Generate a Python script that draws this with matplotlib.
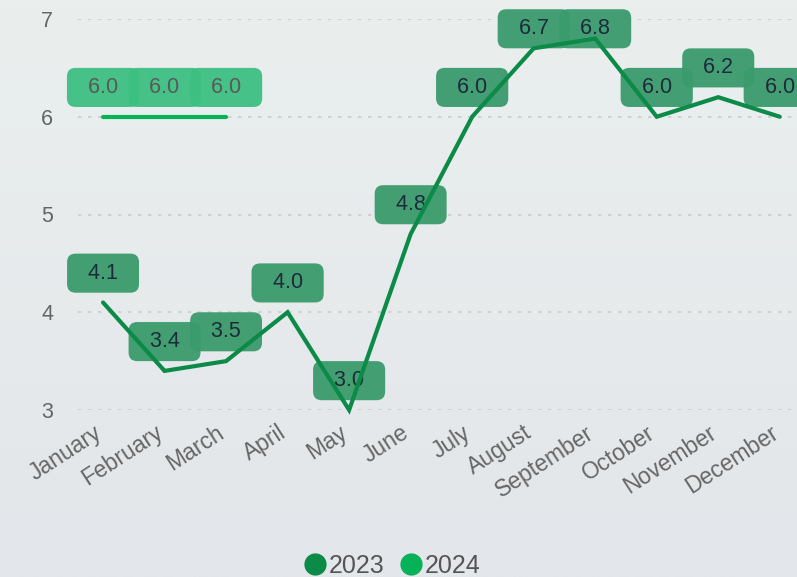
import numpy as np
import matplotlib
matplotlib.use("Agg")
import matplotlib.pyplot as plt
import matplotlib.transforms as mtransforms
from matplotlib.lines import Line2D

months = ["January", "February", "March", "April", "May", "June", "July",
          "August", "September", "October", "November", "December"]
values_2023 = [4.1, 3.4, 3.5, 4.0, 3.0, 4.8, 6.0, 6.7, 6.8, 6.0, 6.2, 6.0]
values_2024 = [6.0, 6.0, 6.0]

c2023 = "#0b8a48"
c2024 = "#06b257"
box2023 = "#3a9b6c"
box2024 = "#3dbf82"

plt.rcParams["font.family"] = ["Liberation Sans", "DejaVu Sans"]

fig = plt.figure(figsize=(7.97, 5.77), dpi=100)

# soft background gradient
bg = fig.add_axes([0, 0, 1, 1], zorder=-10)
grad = np.linspace(0, 1, 256).reshape(-1, 1)
cmap = matplotlib.colors.LinearSegmentedColormap.from_list("bg", ["#eaefee", "#e3e6ea"])
bg.imshow(grad, aspect="auto", cmap=cmap, extent=[0, 1, 0, 1])
bg.axis("off")

ax = fig.add_axes([78 / 797, 167 / 577, 719 / 797, 391 / 577])
ax.patch.set_alpha(0)
x = np.arange(len(months))

ax.plot(x, values_2023, color=c2023, lw=3, zorder=3, solid_capstyle="round",
        solid_joinstyle="miter", clip_on=False)
ax.plot(x[:len(values_2024)], values_2024, color=c2024, lw=3, zorder=3,
        solid_capstyle="round", clip_on=False)

def label(xi, v, fc, tc):
    ax.annotate(f"  {v:.1f}  ", (xi, min(v + 0.3, 6.9)), ha="center", va="center",
                fontsize=15.5, color=tc, zorder=2, annotation_clip=False,
                bbox=dict(boxstyle="round,pad=0.42,rounding_size=0.4", fc=fc, ec="none", alpha=0.95))

for xi, v in zip(x, values_2023):
    label(xi, v, box2023, "#1d2b3a")
for xi, v in zip(x, values_2024):
    label(xi, v, box2024, "#5a5a5a")

ax.set_xlim(-0.407, 11.28)
ax.set_ylim(3, 7)
ax.set_yticks([3, 4, 5, 6, 7])
ax.set_xticks(x)
ax.set_xticklabels(months, rotation=33, ha="right", rotation_mode="anchor")
ax.tick_params(axis="both", length=0, labelsize=15.5, colors="#666666")
ax.tick_params(axis="x", labelsize=16.5, pad=3)
ax.tick_params(axis="y", pad=18)
shift = mtransforms.ScaledTranslation(-10 / 100, -7 / 100, fig.dpi_scale_trans)
for t in ax.get_xticklabels():
    t.set_transform(t.get_transform() + shift)
ax.grid(axis="y", color="#c9cccc", linestyle=(0, (2, 4)), lw=1.2)
for s in ax.spines.values():
    s.set_visible(False)

handles = [Line2D([], [], marker="o", ls="none", color=c2023, markersize=15),
           Line2D([], [], marker="o", ls="none", color=c2024, markersize=15)]
fig.legend(handles, ["2023", "2024"], loc="lower center", bbox_to_anchor=(0.49, -0.04),
           ncol=2, frameon=False, fontsize=18, labelcolor="#555555",
           handletextpad=0.0, columnspacing=0.5, handlelength=1.1)

fig.savefig("out.png", dpi=100)
